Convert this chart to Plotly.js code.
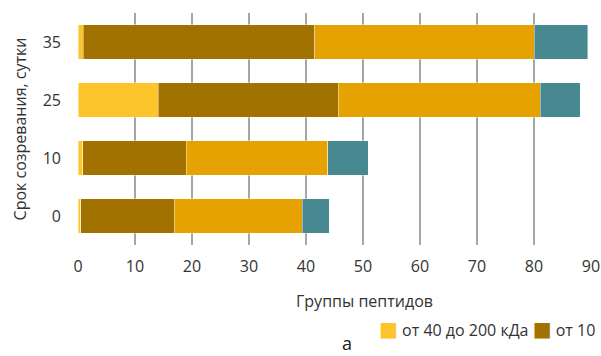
<!DOCTYPE html>
<html><head><meta charset="utf-8">
<script src="https://cdn.plot.ly/plotly-3.0.1.min.js"></script>
<style>body{margin:0}#c{width:601px;height:356px}</style>
</head><body><div id="c"></div>
<script>
const categories = ['0', '10', '25', '35'];
const seriesNames = ['от 40 до 200 кДа', 'от 10', 'от 3 до 10 кДа', 'менее 3 кДа'];
const yellowVals = [0.5, 0.8, 14.1, 0.9];
const brownVals = [16.4, 18.2, 31.6, 40.6];
const orangeVals = [22.4, 24.8, 35.4, 38.5];
const tealVals = [4.8, 7.1, 7.0, 9.4];
const xTicks = [0, 10, 20, 30, 40, 50, 60, 70, 80, 90];

const colors = ['#fdc42b', '#a17200', '#e6a200', '#488890'];
const vals = [yellowVals, brownVals, orangeVals, tealVals];
const traces = vals.map((v, i) => ({
  type: 'bar', orientation: 'h', y: categories, x: v, name: seriesNames[i],
  marker: {color: colors[i], line: {color: 'rgba(255,255,255,0.7)', width: 0.6}},
  showlegend: false, hoverinfo: 'x'
}));

const legendText = seriesNames.slice(0, 2).map((n, i) =>
  '<span style="color:' + colors[i] + ';font-size:20px;font-family:DejaVu Sans">■</span> ' + n).join(' ');

const layout = {
  width: 601, height: 356,
  margin: {l: 78, r: 10, t: 13, b: 111},
  barmode: 'stack', bargap: 0.41,
  paper_bgcolor: '#fff', plot_bgcolor: '#fff',
  font: {family: 'Open Sans, Noto Sans, sans-serif', size: 16, color: '#333333'},
  xaxis: {range: [0, 90], tickmode: 'array', tickvals: xTicks, showgrid: true, gridcolor: '#a6a6a6', gridwidth: 2,
    zeroline: false, showline: false, ticks: '', ticklabelstandoff: 10, automargin: false},
  yaxis: {type: 'category', categoryorder: 'array', categoryarray: categories,
    showgrid: false, zeroline: false, showline: false, ticks: '', ticklabelstandoff: 16, automargin: false,
    title: {text: 'Срок созревания, сутки', font: {size: 16}, standoff: 12}},
  showlegend: false,
  annotations: [
    {text: 'Группы пептидов', xref: 'paper', yref: 'paper', x: 0.558, y: -0.243, showarrow: false,
      xanchor: 'center', yanchor: 'middle', font: {size: 16}},
    {text: legendText, xref: 'paper', yref: 'paper', x: 1.012, y: -0.362, showarrow: false,
      xanchor: 'right', yanchor: 'middle', font: {size: 16}},
    {text: 'а', xref: 'paper', yref: 'paper', x: 0.525, y: -0.422, showarrow: false,
      xanchor: 'center', yanchor: 'middle', font: {size: 18, color: '#202020'}}
  ]
};
Plotly.newPlot('c', traces, layout, {displayModeBar: false, staticPlot: true});
</script></body></html>
